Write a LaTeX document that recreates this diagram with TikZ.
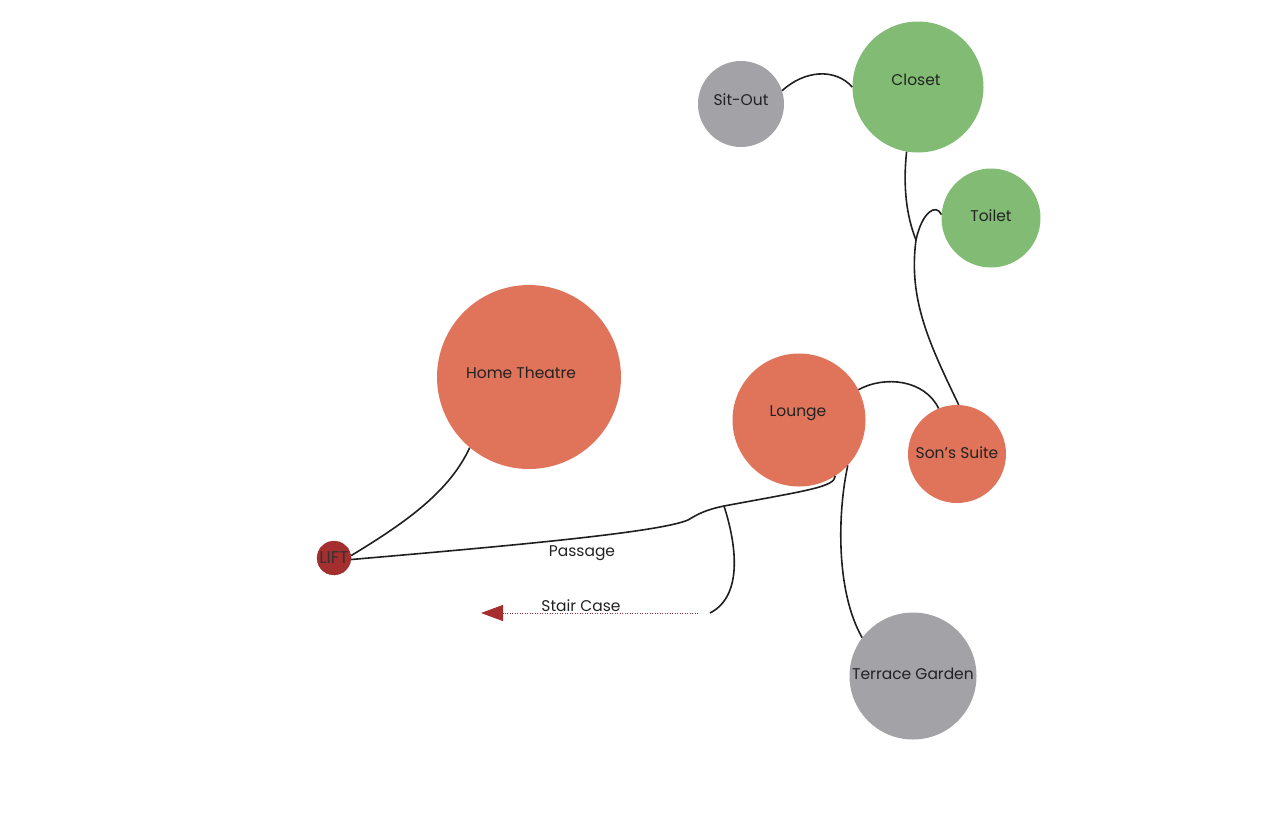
\documentclass[tikz,border=0pt]{standalone}
\usepackage{fontspec}
\setmainfont{Poppins}
\usetikzlibrary{arrows.meta}
\definecolor{cgray}{HTML}{A3A3A7}
\definecolor{cgreen}{HTML}{82BC74}
\definecolor{corange}{HTML}{E0745A}
\definecolor{clift}{HTML}{A52E2E}
\definecolor{ctext}{HTML}{222222}
\tikzset{
  room/.style={circle, inner sep=0pt, draw=none},
  lbl/.style={text=ctext, font=\fontsize{15.5}{18}\selectfont, inner sep=0pt},
  link/.style={line width=1.6pt, color=black!88},
}
\begin{document}
\begin{tikzpicture}[x=1pt,y=-1pt]
\useasboundingbox (0,0) rectangle (1288,825);
% rooms
\node[room, fill=cgray, minimum size=86pt, label={[lbl, yshift=4pt]center:Sit-Out}] (sitout) at (741,104) {};
\node[room, fill=cgreen, minimum size=131pt, label={[lbl, xshift=-2pt, yshift=7pt]center:Closet}] (closet) at (918,87) {};
\node[room, fill=cgreen, minimum size=99pt, label={[lbl, yshift=2pt]center:Toilet}] (toilet) at (991,218) {};
\node[room, fill=corange, minimum size=184pt, label={[lbl, xshift=-8pt, yshift=4pt]center:Home Theatre}] (ht) at (529,377) {};
\node[room, fill=corange, minimum size=133pt, label={[lbl, xshift=-1pt, yshift=7pt]center:Lounge}] (lounge) at (799,420) {};
\node[room, fill=corange, minimum size=98pt, label={[lbl, yshift=1pt]center:Son's Suite}] (sons) at (957,454) {};
\node[room, fill=cgray, minimum size=127pt, label={[lbl, yshift=2pt]center:Terrace Garden}] (terrace) at (913,676) {};
\node[room, fill=clift, draw=clift!80!black, densely dotted, line width=0.6pt, minimum size=34pt, label={[lbl, text=black!80, font=\fontsize{17}{20}\selectfont]center:LIFT}] (lift) at (334,558) {};
% labels
\node[lbl] (passage) at (582,553) {Passage};
\node[lbl] (stair) at (581,606) {Stair Case};
% coordinates
\coordinate (j) at (916,240);
\coordinate (pj) at (724,506);
\coordinate (sj) at (710,613);
\coordinate (sa) at (698,613);
\coordinate (st) at (481,613);
% connectors
\draw[link] (sitout.18) .. controls (805,70) and (835,68) .. (closet.180);
\draw[link] (closet.-100) .. controls (903,185) and (906,215) .. (j);
\draw[link] (toilet.176) .. controls (936,203) and (922,212) .. (j);
\draw[link] (j) .. controls (908,300) and (930,345) .. (sons.88);
\draw[link] (lounge.27) .. controls (885,375) and (925,380) .. (sons.112);
\draw[link] (lounge.-43) .. controls (838,510) and (835,590) .. (terrace.143);
\draw[link] (lounge.-57) .. controls (834,487) and (810,490) .. (pj)
  .. controls (705,510) and (698,514) .. (688,520)
  .. controls (660,532) and (520,545) .. (lift.-5);
\draw[link] (pj) .. controls (735,540) and (745,595) .. (sj);
\draw[link] (lift.8) .. controls (410,520) and (450,490) .. (ht.-130);
\draw[clift, line width=0.9pt, dash pattern=on 1pt off 1.5pt, -{Triangle[length=22pt,width=16pt]}] (sa) -- (st);
\end{tikzpicture}
\end{document}
